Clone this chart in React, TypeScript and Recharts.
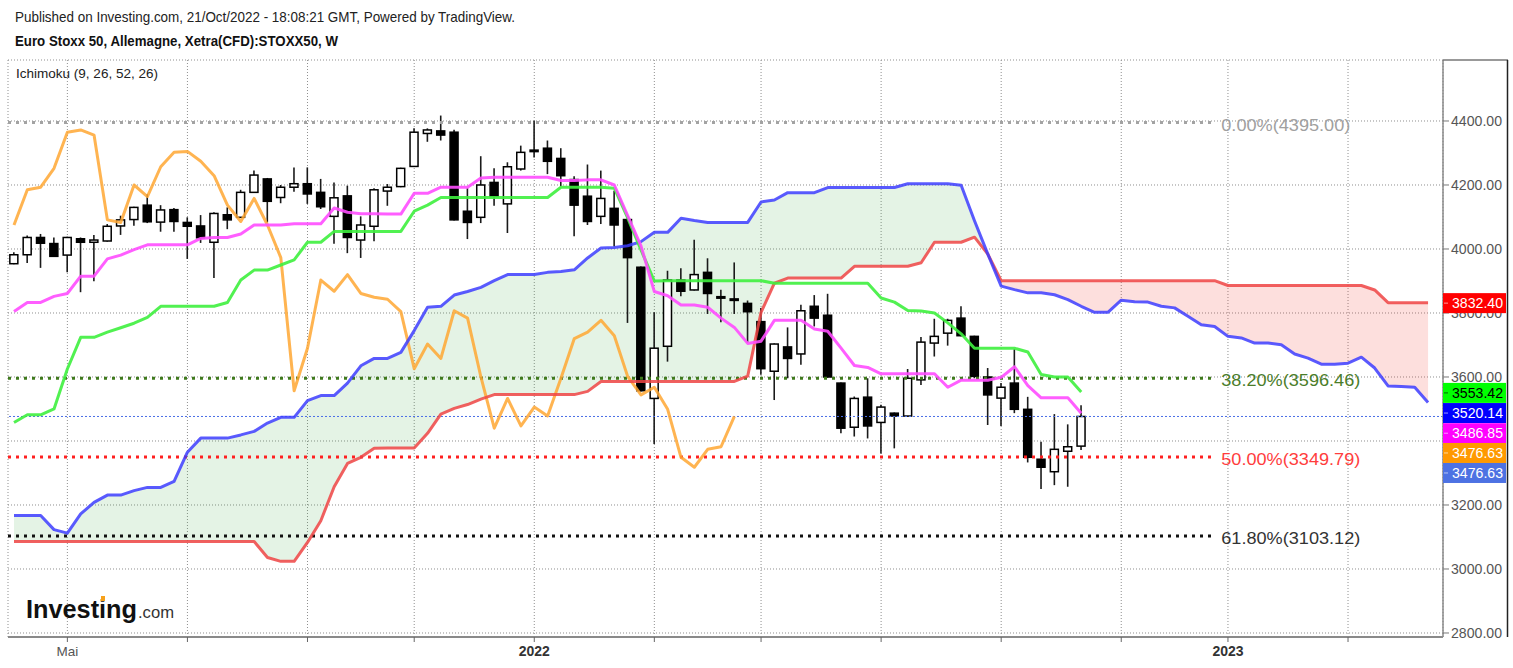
import React from "react";
import {
  ComposedChart,
  XAxis,
  YAxis,
  CartesianGrid,
  Bar,
  Line,
  Area,
  ReferenceLine,
  ReferenceDot,
} from "recharts";

const FONT = "'Liberation Sans', Arial, sans-serif";
const X_MIN = -0.45;
const X_MAX = 107.12;
const Y_MIN = 2787.5;
const Y_MAX = 4590.6;

// weekly candles, index 0 = first week of Apr 2021
const opens = [
  3954, 3982, 4036, 4017, 3981, 4032, 4021, 4025, 4072, 4092,
  4137, 4084, 4123, 4083, 4072, 4021, 4107, 4099, 4177, 4219,
  4161, 4193, 4204, 4177, 4102, 4166, 4028, 4071, 4181, 4195,
  4258, 4361, 4369, 4365, 4118, 4099, 4208, 4141, 4250, 4309,
  4315, 4283, 4217, 4165, 4102, 4127, 4092, 3943, 3533, 3696,
  3903, 3872, 3927, 3851, 3844, 3830, 3773, 3618, 3694, 3672,
  3821, 3793, 3581, 3443, 3537, 3458, 3487, 3478, 3591, 3706,
  3737, 3784, 3727, 3600, 3534, 3581, 3499, 3343, 3304, 3368, 3384,
];
const highs = [
  3990, 4042, 4047, 4036, 4038, 4036, 4044, 4078, 4104, 4132,
  4171, 4137, 4128, 4099, 4106, 4115, 4130, 4185, 4245, 4222,
  4200, 4255, 4255, 4219, 4208, 4198, 4102, 4190, 4203, 4254,
  4377, 4377, 4417, 4373, 4190, 4290, 4252, 4271, 4323, 4401,
  4339, 4315, 4227, 4264, 4245, 4182, 4104, 3945, 3802, 3932,
  3940, 4029, 3971, 3873, 3958, 3839, 3816, 3705, 3755, 3826,
  3856, 3860, 3583, 3539, 3596, 3513, 3489, 3625, 3725, 3782,
  3782, 3821, 3729, 3628, 3581, 3687, 3538, 3398, 3484, 3452, 3512,
];
const lows = [
  3952, 3956, 3941, 3975, 3927, 3865, 3899, 4023, 4044, 4073,
  4081, 4054, 4054, 3969, 4019, 3909, 4062, 4097, 4175, 4083,
  4143, 4179, 4141, 4125, 4016, 3987, 3972, 4024, 4135, 4193,
  4256, 4335, 4339, 4089, 4031, 4081, 4135, 4050, 4245, 4286,
  4234, 4196, 4040, 4075, 4078, 4008, 3769, 3555, 3391, 3648,
  3852, 3870, 3797, 3771, 3797, 3708, 3607, 3528, 3596, 3638,
  3758, 3598, 3424, 3414, 3408, 3361, 3377, 3476, 3575, 3664,
  3698, 3727, 3596, 3450, 3447, 3487, 3333, 3250, 3262, 3257, 3372,
];
const closes = [
  3982, 4036, 4018, 3977, 4036, 4021, 4028, 4071, 4091, 4130,
  4085, 4122, 4086, 4071, 4035, 4111, 4091, 4177, 4231, 4149,
  4193, 4204, 4172, 4132, 4160, 4036, 4075, 4185, 4193, 4252,
  4365, 4372, 4356, 4091, 4083, 4200, 4164, 4257, 4302, 4305,
  4274, 4229, 4137, 4086, 4158, 4075, 3973, 3557, 3690, 3903,
  3868, 3920, 3861, 3849, 3843, 3804, 3626, 3703, 3658, 3807,
  3784, 3600, 3440, 3533, 3447, 3506, 3478, 3596, 3709, 3727,
  3777, 3729, 3602, 3544, 3568, 3499, 3349, 3318, 3374, 3382, 3476.63,
];

// Ichimoku lines
const tenkan = [
  3805, 3833, 3833, 3852, 3861, 3915, 3915, 3969, 3981, 3998,
  4013, 4013, 4013, 4013, 4033, 4036, 4036, 4047, 4075, 4075,
  4075, 4079, 4079, 4079, 4128, 4115, 4110, 4110, 4109, 4109,
  4174, 4174, 4193, 4193, 4193, 4222, 4224, 4224, 4224, 4224,
  4224, 4214, 4214, 4216, 4216, 4200, 4104, 4010, 3867, 3854,
  3825, 3825, 3818, 3784, 3755, 3705, 3712, 3777, 3777, 3777,
  3750, 3743, 3690, 3636, 3630, 3610, 3610, 3610, 3610, 3610,
  3568, 3590, 3590, 3590, 3599, 3632, 3573, 3535, 3535, 3535, 3486.85,
];
const kijun = [
  3458, 3482, 3482, 3500, 3625, 3724, 3724, 3740, 3754, 3768,
  3786, 3821, 3821, 3821, 3821, 3821, 3833, 3903, 3934, 3934,
  3950, 3966, 4021, 4021, 4055, 4055, 4055, 4055, 4055, 4055,
  4118, 4137, 4161, 4161, 4161, 4161, 4161, 4161, 4161, 4161,
  4161, 4193, 4193, 4193, 4193, 4190, 4097, 3997, 3900, 3901,
  3901, 3901, 3901, 3901, 3901, 3901, 3901, 3893, 3893, 3893,
  3893, 3893, 3893, 3893, 3893, 3847, 3834, 3808, 3806, 3800,
  3769, 3735, 3690, 3690, 3690, 3690, 3678, 3608, 3600, 3600, 3553.42,
];
const chikou = [
  4075, 4185, 4193, 4252, 4365, 4372, 4356, 4091, 4083, 4200,
  4164, 4257, 4302, 4305, 4274, 4229, 4137, 4086, 4158, 4075,
  3973, 3557, 3690, 3903, 3868, 3920, 3861, 3849, 3843, 3804,
  3626, 3703, 3658, 3807, 3784, 3600, 3440, 3533, 3447, 3506,
  3478, 3596, 3720, 3740, 3777, 3729, 3602, 3544, 3568, 3499,
  3349, 3318, 3374, 3382, 3476.63,
];
const spanA = [
  3167, 3167, 3167, 3123, 3112, 3172, 3208, 3231, 3231, 3245,
  3255, 3255, 3274, 3365, 3409, 3409, 3409, 3419, 3430, 3456,
  3474, 3474, 3526, 3542, 3542, 3581, 3635, 3658, 3658, 3677,
  3745, 3818, 3821, 3856, 3867, 3880, 3901, 3920, 3920, 3920,
  3927, 3930, 3935, 3972, 4003, 4005, 4010, 4023, 4052, 4052,
  4096, 4089, 4083, 4083, 4083, 4083, 4147, 4153, 4176, 4176,
  4176, 4192, 4192, 4192, 4192, 4192, 4192, 4204, 4204, 4204,
  4204, 4199, 4088, 3984, 3884, 3873, 3863, 3863, 3857, 3842,
  3821, 3802, 3802, 3840, 3835, 3834, 3821, 3816, 3790, 3763,
  3758, 3727, 3722, 3706, 3706, 3701, 3672, 3659, 3640, 3640,
  3643, 3662, 3628, 3572, 3570, 3568, 3520.14,
];
const spanB = [
  3086, 3086, 3086, 3086, 3086, 3086, 3086, 3086, 3086, 3086,
  3086, 3086, 3086, 3086, 3086, 3086, 3086, 3086, 3086, 3036,
  3024, 3024, 3083, 3151, 3257, 3330, 3349, 3377, 3378, 3378,
  3378, 3424, 3484, 3502, 3514, 3531, 3545, 3545, 3545, 3545,
  3545, 3545, 3545, 3555, 3586, 3586, 3586, 3586, 3586, 3586,
  3586, 3586, 3586, 3586, 3586, 3603, 3802, 3893, 3909, 3909,
  3909, 3909, 3909, 3946, 3946, 3946, 3946, 3946, 3957, 4021,
  4021, 4021, 4037, 3984, 3901, 3901, 3901, 3901, 3901, 3901,
  3901, 3901, 3901, 3901, 3901, 3901, 3901, 3901, 3901, 3901,
  3901, 3886, 3886, 3886, 3886, 3886, 3886, 3886, 3886, 3886,
  3886, 3886, 3872, 3832.4, 3832.4, 3832.4, 3832.4,
];

const monthTicks = [4, 13, 22, 30, 39, 48, 56, 65, 74, 83, 91, 100];
const monthLabels: Record<number, string> = { 4: "Mai", 39: "2022", 91: "2023" };
const priceTicks = [2800, 3000, 3200, 3400, 3600, 3800, 4000, 4200, 4400];

const fibLevels = [
  { label: "0.00%(4395.00)", value: 4395.0, color: "#a3a3a3", text: "#a0a0a0", width: 129 },
  { label: "38.20%(3596.46)", value: 3596.46, color: "#3f7a1c", text: "#4b7d2a", width: 139 },
  { label: "50.00%(3349.79)", value: 3349.79, color: "#ff2020", text: "#ff3d3d", width: 139 },
  { label: "61.80%(3103.12)", value: 3103.12, color: "#111111", text: "#333333", width: 139 },
];
const FIB_END = 90;

const lastTags = [
  { text: "3832.40", value: 3832.4, bg: "#ff0000", fg: "#ffffff", shift: 0.5 },
  { text: "3553.42", value: 3553.42, bg: "#00ff00", fg: "#000000", shift: 1 },
  { text: "3520.14", value: 3520.14, bg: "#0000ff", fg: "#ffffff", shift: 10.5 },
  { text: "3486.85", value: 3486.85, bg: "#ff00ff", fg: "#ffffff", shift: 20 },
  { text: "3476.63", value: 3476.63, bg: "#ff9900", fg: "#ffffff", shift: 36.5 },
  { text: "3476.63", value: 3476.63, bg: "#4d72e3", fg: "#ffffff", shift: 56.5 },
];

const rows = spanA.map((a, i) => {
  const b = spanB[i];
  const has = i < closes.length;
  return {
    i,
    candle: has ? [lows[i], highs[i]] : null,
    open: has ? opens[i] : null,
    close: has ? closes[i] : null,
    tenkan: i < tenkan.length ? tenkan[i] : null,
    kijun: i < kijun.length ? kijun[i] : null,
    chikou: i < chikou.length ? chikou[i] : null,
    spanA: a,
    spanB: b,
    bull: a >= b ? [b, a] : null,
    bear: b >= a ? [a, b] : null,
  };
});

function Candle(props: any) {
  const { x, y, width, height, payload } = props;
  if (!payload || payload.candle == null || height == null || isNaN(y)) return <g />;
  const [lo, hi] = payload.candle;
  const top = Math.min(y, y + height);
  const h = Math.abs(height);
  const span = hi - lo || 1;
  const toY = (v: number) => top + ((hi - v) / span) * h;
  const cx = x + width / 2;
  const up = payload.close >= payload.open;
  const bTop = toY(Math.max(payload.open, payload.close));
  const bBot = toY(Math.min(payload.open, payload.close));
  return (
    <g>
      <line x1={cx} x2={cx} y1={top} y2={top + h} stroke="#1a1a1a" strokeWidth={1.6} />
      <rect
        x={cx - 4}
        y={bTop}
        width={8}
        height={Math.max(bBot - bTop, 1.5)}
        fill={up ? "#ffffff" : "#000000"}
        stroke="#000000"
        strokeWidth={1.5}
      />
    </g>
  );
}

function MonthTick(props: any) {
  const { x, y, payload } = props;
  const label = monthLabels[payload.value];
  if (!label) return <g />;
  const bold = label !== "Mai";
  return (
    <text
      x={x}
      y={y + 12}
      textAnchor="middle"
      fontFamily={FONT}
      fontSize={bold ? 14 : 13.5}
      fontWeight={bold ? 700 : 400}
      fill={bold ? "#333" : "#555"}
    >
      {label}
    </text>
  );
}

const lineProps = {
  dot: false,
  activeDot: false,
  isAnimationActive: false,
  strokeWidth: 3,
  strokeLinejoin: "round" as const,
  type: "linear" as const,
};

export default function App() {
  return (
    <div
      style={{
        position: "absolute",
        left: 0,
        top: 0,
        width: 1513,
        height: 668,
        background: "#fff",
        fontFamily: FONT,
      }}
    >
      <ComposedChart
        width={1513}
        height={668}
        data={rows}
        margin={{ top: 60, right: 5, bottom: 6, left: 8 }}
      >
        <CartesianGrid stroke="#8f8f8f" strokeDasharray="1 2" />
        <XAxis
          dataKey="i"
          type="number"
          domain={[X_MIN, X_MAX]}
          allowDataOverflow
          ticks={monthTicks}
          interval={0}
          height={25}
          tickSize={5}
          tick={<MonthTick />}
          tickLine={{ stroke: "#666" }}
          axisLine={{ stroke: "#8a8a8a", strokeWidth: 2 }}
        />
        <YAxis
          orientation="right"
          type="number"
          domain={[Y_MIN, Y_MAX]}
          allowDataOverflow
          ticks={priceTicks}
          interval={0}
          width={65}
          tickSize={6}
          tick={() => <g />}
          tickLine={{ stroke: "#777" }}
          axisLine={{ stroke: "#8a8a8a", strokeWidth: 1.5 }}
        />

        <Area
          dataKey="bull"
          stroke="none"
          fill="#4caf50"
          fillOpacity={0.15}
          isAnimationActive={false}
          activeDot={false}
          type="linear"
        />
        <Area
          dataKey="bear"
          stroke="none"
          fill="#f44336"
          fillOpacity={0.17}
          isAnimationActive={false}
          activeDot={false}
          type="linear"
        />

        {fibLevels.map((f) => (
          <ReferenceLine
            key={f.label}
            segment={[
              { x: X_MIN, y: f.value },
              { x: FIB_END, y: f.value },
            ]}
            stroke={f.color}
            strokeWidth={3}
            strokeDasharray="3 5"
            ifOverflow="visible"
          />
        ))}
        <ReferenceLine y={3476.63} stroke="#4a6ee6" strokeDasharray="2 2" strokeWidth={1} />

        <Bar dataKey="candle" barSize={9} isAnimationActive={false} shape={Candle} />

        <Line dataKey="chikou" stroke="#ffa733" strokeOpacity={0.85} {...lineProps} />
        <Line dataKey="spanB" stroke="#ee4444" strokeOpacity={0.85} {...lineProps} />
        <Line dataKey="spanA" stroke="#3d3dff" strokeOpacity={0.85} {...lineProps} />
        <Line dataKey="kijun" stroke="#3ef03e" strokeOpacity={0.9} {...lineProps} />
        <Line dataKey="tenkan" stroke="#ff4dff" strokeOpacity={0.9} {...lineProps} />

        {fibLevels.map((f) => (
          <ReferenceDot
            key={"l" + f.label}
            x={FIB_END + 0.5}
            y={f.value}
            r={0}
            ifOverflow="visible"
            shape={(p: any) => (
              <text
                x={p.cx}
                y={p.cy + 8}
                fill={f.text}
                fontFamily={FONT}
                fontSize={16}
                textLength={f.width}
                lengthAdjust="spacingAndGlyphs"
              >
                {f.label}
              </text>
            )}
          />
        ))}

        {/* price scale labels, drawn before the last-value tags so the tags sit on top */}
        {priceTicks.map((v) => (
          <ReferenceDot
            key={"p" + v}
            x={X_MAX}
            y={v}
            r={0}
            ifOverflow="visible"
            shape={(p: any) => (
              <text
                x={p.cx + 8}
                y={p.cy + 5}
                fontFamily={FONT}
                fontSize={14}
                fill="#555"
                textLength={51}
                lengthAdjust="spacingAndGlyphs"
              >
                {v.toFixed(2)}
              </text>
            )}
          />
        ))}

        {lastTags.map((t, k) => (
          <ReferenceDot
            key={"t" + k}
            x={X_MAX}
            y={t.value}
            r={0}
            ifOverflow="visible"
            shape={(p: any) => (
              <g>
                <rect x={p.cx} y={p.cy + t.shift - 10} width={63} height={20} fill={t.bg} />
                <line
                  x1={p.cx + 1}
                  x2={p.cx + 5}
                  y1={p.cy + t.shift}
                  y2={p.cy + t.shift}
                  stroke={t.fg}
                  strokeOpacity={0.6}
                />
                <text
                  x={p.cx + 9}
                  y={p.cy + t.shift + 5}
                  fill={t.fg}
                  fontFamily={FONT}
                  fontSize={14}
                  textLength={51}
                  lengthAdjust="spacingAndGlyphs"
                >
                  {t.text}
                </text>
              </g>
            )}
          />
        ))}
      </ComposedChart>

      <svg
        width={1513}
        height={668}
        style={{ position: "absolute", left: 0, top: 0, pointerEvents: "none" }}
      >
        <text x={15} y={22} fontFamily={FONT} fontSize={15} fill="#222" textLength={500} lengthAdjust="spacingAndGlyphs">
          Published on Investing.com, 21/Oct/2022 - 18:08:21 GMT, Powered by TradingView.
        </text>
        <text x={15} y={45.5} fontFamily={FONT} fontSize={15} fontWeight={700} fill="#111" textLength={323} lengthAdjust="spacingAndGlyphs">
          Euro Stoxx 50, Allemagne, Xetra(CFD):STOXX50, W
        </text>
        <text x={16} y={78} fontFamily={FONT} fontSize={13.5} fill="#222" textLength={142} lengthAdjust="spacingAndGlyphs">
          Ichimoku (9, 26, 52, 26)
        </text>

        <text x={26} y={618} fontFamily={FONT} fontSize={25} fontWeight={700} fill="#111" textLength={111} lengthAdjust="spacingAndGlyphs">
          Investing
        </text>
        <rect x={101} y={596} width={4} height={5} fill="#f7a11a" />
        <text x={138} y={618} fontFamily={FONT} fontSize={17} fill="#333" textLength={36} lengthAdjust="spacingAndGlyphs">
          .com
        </text>

        <line x1={1443} y1={60} x2={1508} y2={60} stroke="#777" strokeWidth={1.5} />
        <line x1={1507.5} y1={60} x2={1507.5} y2={637} stroke="#222" strokeWidth={1.5} />
      </svg>
    </div>
  );
}
